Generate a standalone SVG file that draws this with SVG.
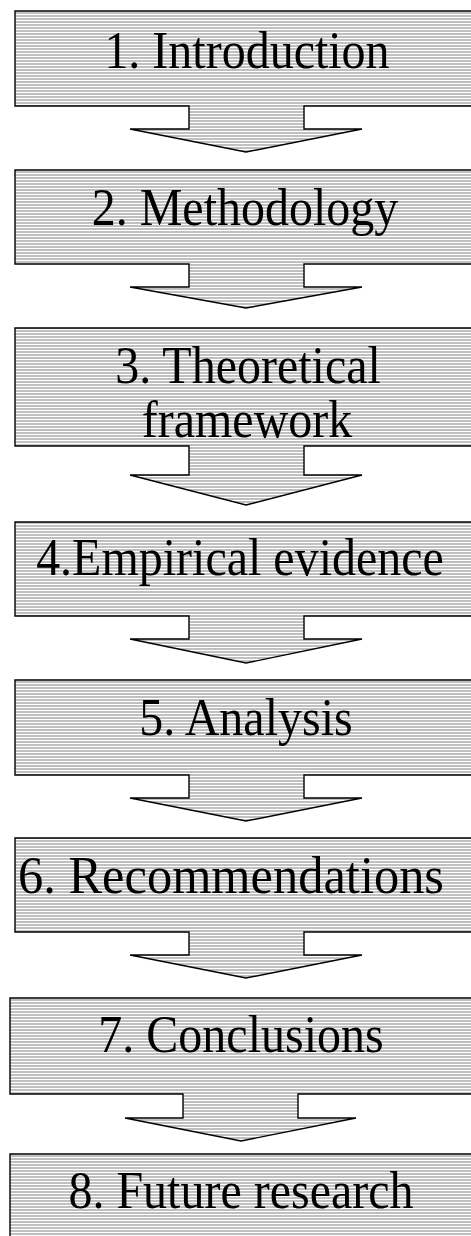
<svg xmlns="http://www.w3.org/2000/svg" width="471" height="1236" viewBox="0 0 471 1236">
  <defs>
    <!-- grey fill ruled with thin white horizontal lines -->
    <pattern id="hatch" patternUnits="userSpaceOnUse" width="10" height="3">
      <rect width="10" height="3" fill="#c0c0c0"/>
      <rect y="2" width="10" height="1" fill="#ffffff"/>
    </pattern>
  </defs>
  <style>
    .callout { fill: url(#hatch); stroke: #000; stroke-width: 1.4; stroke-linejoin: miter; }
    .label { font-family: "Liberation Serif", "Times New Roman", serif; font-size: 48px; fill: #000; text-anchor: middle; }
  </style>
  <rect width="471" height="1236" fill="#ffffff"/>

  <g id="connectors"></g>

  <g id="step1">
    <path class="callout" d="M15,11 H477 V106 H304 V129 H362 L246,152 L130,129 H189 V106 H15 Z"/>
    <text class="label" transform="translate(247,68) scale(1,1.12)">1. Introduction</text>
  </g>
  <g id="step2">
    <path class="callout" d="M15,170 H477 V264 H304 V287 H362 L246,308 L130,287 H189 V264 H15 Z"/>
    <text class="label" transform="translate(245,225) scale(1,1.12)">2. Methodology</text>
  </g>
  <g id="step3">
    <path class="callout" d="M15,328 H477 V446 H304 V475 H362 L246,505 L130,475 H189 V446 H15 Z"/>
    <text class="label" transform="translate(248,383) scale(1,1.12)">3. Theoretical</text>
    <text class="label" transform="translate(247,437) scale(1,1.12)">framework</text>
  </g>
  <g id="step4">
    <path class="callout" d="M15,522 H477 V616 H304 V639 H362 L246,663 L130,639 H189 V616 H15 Z"/>
    <text class="label" transform="translate(240,575) scale(1,1.12)">4.Empirical evidence</text>
  </g>
  <g id="step5">
    <path class="callout" d="M15,680 H477 V775 H304 V798 H362 L246,821 L130,798 H189 V775 H15 Z"/>
    <text class="label" transform="translate(246,735) scale(1,1.12)">5. Analysis</text>
  </g>
  <g id="step6">
    <path class="callout" d="M15,838 H477 V932 H304 V955 H362 L246,978 L130,955 H189 V932 H15 Z"/>
    <text class="label" transform="translate(231,893) scale(1,1.12)" textLength="426" lengthAdjust="spacingAndGlyphs">6. Recommendations</text>
  </g>
  <g id="step7">
    <path class="callout" d="M10,998 H472 V1094 H298 V1118 H356 L241,1141 L125,1118 H183 V1094 H10 Z"/>
    <text class="label" transform="translate(241,1052) scale(1,1.12)">7. Conclusions</text>
  </g>
  <g id="step8">
    <path class="callout" d="M10,1154 H472 V1250 H10 Z"/>
    <text class="label" transform="translate(241,1208) scale(1,1.12)">8. Future research</text>
  </g>
</svg>
